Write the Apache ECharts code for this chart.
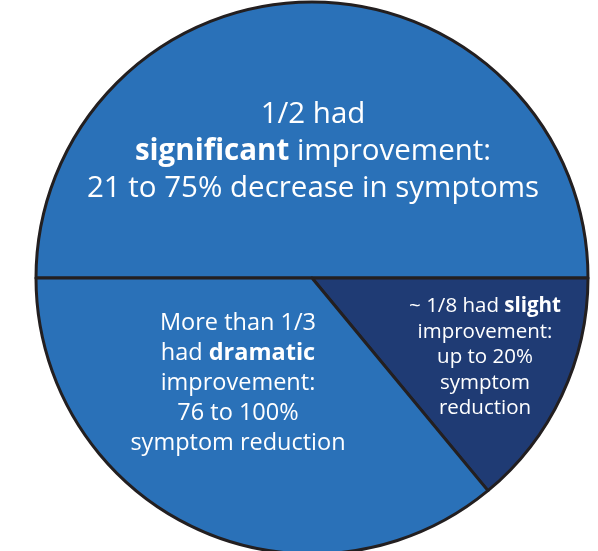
<!DOCTYPE html>
<html>
<head>
<meta charset="utf-8">
<script src="https://cdn.jsdelivr.net/npm/echarts@6/dist/echarts.min.js"></script>
<style>
html,body{margin:0;padding:0;background:#fff;}
#c{width:598px;height:551px;}
</style>
</head>
<body>
<div id="c"></div>
<script>
// Data
const categories = ['significant', 'slight', 'dramatic'];
const values = [50, 14, 36];
const labelTexts = [
  '1/2 had\n{b|significant} improvement:\n21 to 75% decrease in symptoms',
  '~ 1/8 had {b|slight}\nimprovement:\nup to 20%\nsymptom\nreduction',
  'More than 1/3\nhad {b|dramatic}\nimprovement:\n76 to 100%\nsymptom reduction'
];
const sliceColors = ['#2a71b8', '#1f3b74', '#2a71b8'];

const fontFam = '"Open Sans", Lato, sans-serif';
const labelStyles = [
  {fontSize: 29.5, lineHeight: 37, dx: 1, dy: -126.5},
  {fontSize: 20.5, lineHeight: 25.5, dx: 173, dy: 79.5},
  {fontSize: 23.5, lineHeight: 30, dx: -74, dy: 105}
];

const chart = echarts.init(document.getElementById('c'), null, {renderer: 'canvas'});
const cx = 312, cy = 278;

chart.setOption({
  animation: false,
  series: [{
    type: 'pie',
    center: [cx, cy],
    radius: [0, 276],
    startAngle: 180,
    clockwise: true,
    avoidLabelOverlap: false,
    itemStyle: {borderColor: '#231f20', borderWidth: 3},
    emphasis: {disabled: true},
    labelLine: {show: false},
    data: categories.map((n, i) => ({
      name: n,
      value: values[i],
      itemStyle: {color: sliceColors[i]},
      label: {
        show: true,
        position: 'inside',
        formatter: labelTexts[i],
        color: '#ffffff',
        fontFamily: fontFam,
        fontSize: labelStyles[i].fontSize,
        lineHeight: labelStyles[i].lineHeight,
        align: 'center',
        rich: {
          b: {fontWeight: 'bold', color: '#ffffff', fontFamily: fontFam,
              fontSize: labelStyles[i].fontSize, lineHeight: labelStyles[i].lineHeight}
        }
      }
    })),
    labelLayout: function (p) {
      const s = labelStyles[p.dataIndex];
      return {x: cx + s.dx, y: cy + s.dy, align: 'center', verticalAlign: 'middle'};
    }
  }]
});
</script>
</body>
</html>
